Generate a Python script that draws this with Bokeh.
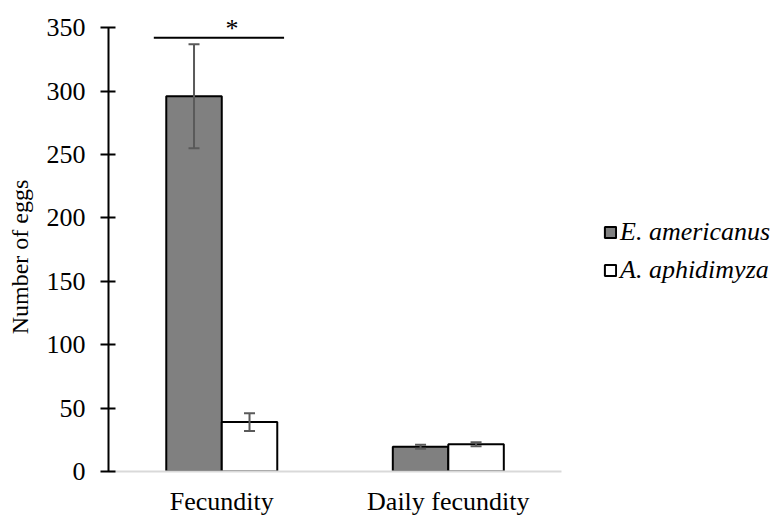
from bokeh.plotting import figure
from bokeh.models import ColumnDataSource, Legend, LegendItem, FixedTicker, Range1d
from bokeh.transform import dodge
from bokeh.core.properties import value
from bokeh.embed import file_html
from bokeh.resources import INLINE

categories = ["Fecundity", "Daily fecundity"]
species = ["E. americanus", "A. aphidimyza"]
e_americanus = [296, 19.5]
e_americanus_err = [41, 1.5]
a_aphidimyza = [39, 21.5]
a_aphidimyza_err = [7, 1.5]
y_ticks = [0, 50, 100, 150, 200, 250, 300, 350]
sig_category = "Fecundity"
sig_level = 342

FONT = "Liberation Serif"
FS = "26px"
BAR_W = 0.245
OFF = BAR_W / 2

x_pos = [i + 0.5 for i in range(len(categories))]
n_cat = len(categories)

src = ColumnDataSource(dict(
    x=x_pos,
    e=e_americanus,
    e_lo=[v - s for v, s in zip(e_americanus, e_americanus_err)],
    e_hi=[v + s for v, s in zip(e_americanus, e_americanus_err)],
    a=a_aphidimyza,
    a_lo=[v - s for v, s in zip(a_aphidimyza, a_aphidimyza_err)],
    a_hi=[v + s for v, s in zip(a_aphidimyza, a_aphidimyza_err)],
))

p = figure(x_range=Range1d(0, n_cat * 1.481), y_range=(0, 362), width=779, height=518,
           output_backend="svg", toolbar_location=None,
           min_border_left=108, min_border_right=0, min_border_top=12, min_border_bottom=46)
p.outline_line_color = None
p.xgrid.grid_line_color = None
p.ygrid.grid_line_color = None

r1 = p.vbar(x=dodge("x", -OFF), top="e", width=BAR_W, source=src,
            fill_color="#808080", line_color="black", line_width=2)
r2 = p.vbar(x=dodge("x", OFF), top="a", width=BAR_W, source=src,
            fill_color="white", line_color="black", line_width=2)

EB = "#5a5a5a"
for off, lo, hi in [(-OFF, "e_lo", "e_hi"), (OFF, "a_lo", "a_hi")]:
    xx = dodge("x", off)
    p.segment(x0=xx, x1=xx, y0=lo, y1=hi, source=src, line_color=EB, line_width=2)
    p.scatter(x=xx, y=lo, marker="dash", size=11, line_color=EB, line_width=2, source=src)
    p.scatter(x=xx, y=hi, marker="dash", size=11, line_color=EB, line_width=2, source=src)

sig_x = x_pos[categories.index(sig_category)]
sig_src = ColumnDataSource(dict(x=[sig_x], y=[sig_level], t=["*"]))
p.segment(x0=dodge("x", -0.30), x1=dodge("x", 0.275),
          y0="y", y1="y", source=sig_src, line_color="black", line_width=2)
p.text(x=dodge("x", 0.045), y="y", text="t", source=sig_src, y_offset=-9,
       text_font=value(FONT), text_font_size=FS, text_align="center",
       text_baseline="alphabetic", text_color="black")

# axes
p.yaxis.ticker = FixedTicker(ticks=y_ticks)
p.yaxis.bounds = (0, 350)
p.yaxis.axis_line_color = "black"
p.yaxis.axis_line_width = 2
p.yaxis.major_tick_line_width = 2
p.yaxis.major_tick_in = 7
p.yaxis.major_tick_out = 8
p.yaxis.minor_tick_line_color = None
p.yaxis.major_label_text_font = FONT
p.yaxis.major_label_text_font_size = FS
p.yaxis.major_label_text_color = "black"
p.yaxis.major_label_standoff = 15
p.yaxis.axis_label = "Number of eggs" + "\u00a0" * 5
p.yaxis.axis_label_text_font = FONT
p.yaxis.axis_label_text_font_size = "24px"
p.yaxis.axis_label_text_font_style = "normal"
p.yaxis.axis_label_text_color = "black"
p.yaxis.axis_label_standoff = 11

p.xaxis.ticker = FixedTicker(ticks=x_pos)
p.xaxis.major_label_overrides = {x: c for x, c in zip(x_pos, categories)}
p.xaxis.bounds = (0, n_cat)
p.xaxis.axis_line_color = "#d9d9d9"
p.xaxis.axis_line_width = 2
p.xaxis.major_tick_line_color = None
p.xaxis.minor_tick_line_color = None
p.xaxis.major_label_text_font = FONT
p.xaxis.major_label_text_font_size = FS
p.xaxis.major_label_text_line_height = 1.0
p.xaxis.major_label_text_color = "black"
p.xaxis.major_label_standoff = 9

legend = Legend(items=[LegendItem(label=species[0], renderers=[r1]),
                       LegendItem(label=species[1], renderers=[r2])],
                location=(495, 186))
legend.label_text_font = FONT
legend.label_text_font_size = FS
legend.label_text_font_style = "italic"
legend.label_text_color = "black"
legend.glyph_width = 14
legend.glyph_height = 14
legend.label_standoff = 3
legend.label_height = 20
legend.spacing = 8
legend.padding = 0
legend.margin = 0
legend.border_line_color = None
legend.background_fill_alpha = 0
p.add_layout(legend)

open("out.html", "w").write(file_html(p, INLINE))
